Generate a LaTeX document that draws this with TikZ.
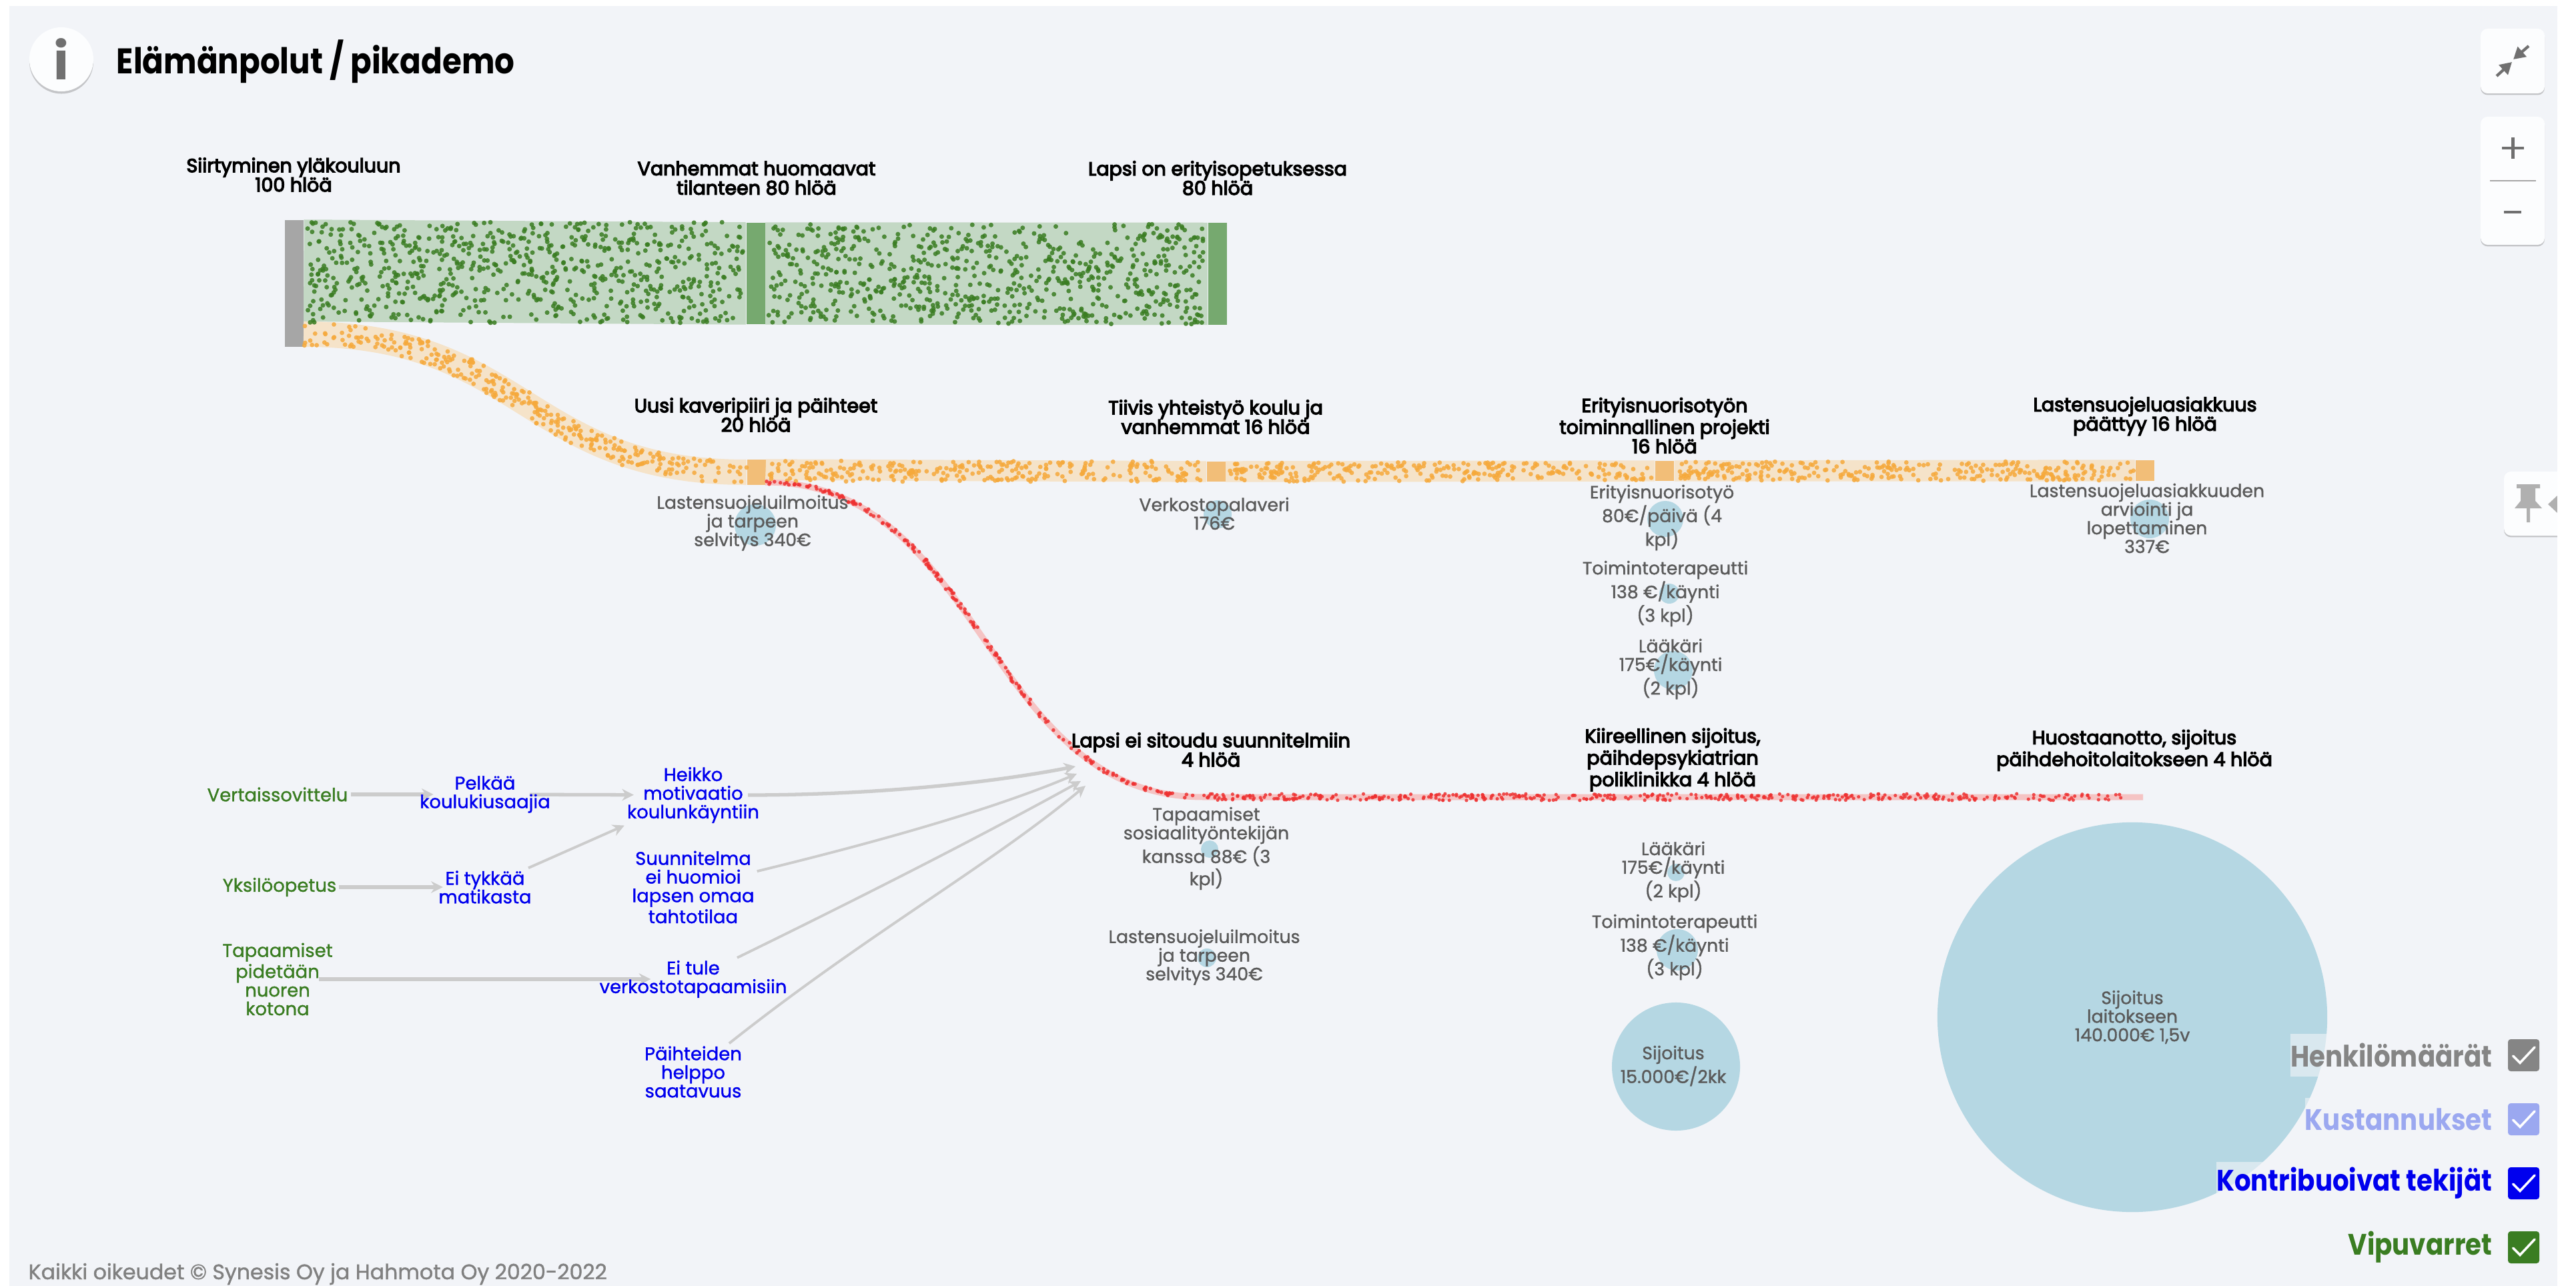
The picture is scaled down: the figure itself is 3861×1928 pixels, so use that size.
\documentclass[tikz,border=0pt]{standalone}
\usepackage{fontspec}
\setmainfont{Poppins}
\newfontfamily\headfont{Poppins}[FakeBold=4.5]
\newfontfamily\titlefont{Poppins}[FakeStretch=0.875]
\newfontfamily\bodyfont{Poppins}[FakeBold=1.2]
\usetikzlibrary{arrows.meta,shadows}
\pgfdeclarelayer{pagelayer}
\pgfdeclarelayer{flowlayer}
\pgfsetlayers{pagelayer,flowlayer,main}
\def\px{0.2845pt}
\definecolor{pagebg}{HTML}{F2F4F8}
\definecolor{greenband}{HTML}{C3D8C4}
\definecolor{greenbar}{HTML}{76A96F}
\definecolor{greendot}{HTML}{3A7D22}
\definecolor{orangeband}{HTML}{F5E3C9}
\definecolor{orangebar}{HTML}{F2BE78}
\definecolor{orangedot}{HTML}{F5A93B}
\definecolor{redband}{HTML}{F5C4C4}
\definecolor{reddot}{HTML}{EE3030}
\definecolor{costblue}{HTML}{B5D7E3}
\definecolor{flowgrey}{HTML}{CCCCCC}
\definecolor{costtext}{HTML}{5A5A5A}
\definecolor{blueish}{HTML}{0000EE}
\definecolor{iconcol}{HTML}{707070}
\definecolor{pincol}{HTML}{B0B0B0}
\definecolor{henkcol}{HTML}{858585}
\definecolor{kustcol}{HTML}{9BA8F0}
\tikzset{
  head/.style={align=center,inner sep=0pt,font=\headfont\fontsize{8.1}{8.25}\selectfont},
  cost/.style={align=center,inner sep=0pt,text=costtext,font=\bodyfont\fontsize{7.6}{7.95}\selectfont},
  factor/.style={align=center,inner sep=1pt,text=blueish,font=\bodyfont\fontsize{7.8}{7.95}\selectfont},
  lever/.style={factor,text=greendot},
  bar/.style={inner sep=0pt,minimum width=28*\px},
  costdot/.style={circle,inner sep=0pt,fill=costblue},
  flow/.style={draw=flowgrey,line width=1.1pt,-{Stealth[length=5pt,width=5pt]}},
  legend/.style={anchor=east,inner sep=0pt,fill=pagebg,fill opacity=.6,text opacity=1,minimum height=64*\px,font=\titlefont\bfseries\fontsize{12.6}{14}\selectfont},
  chk/.style={rounded corners=1.2pt,inner sep=0pt,minimum width=47*\px,minimum height=48*\px},
  chkmark/.style={draw=white,line width=1pt,line cap=round},
  btn/.style={fill=white!80!pagebg,rounded corners=3pt,drop shadow={opacity=.4,shadow xshift=0pt,shadow yshift=-.7pt}},
  ico/.style={draw=iconcol,line width=1.4pt}
}
% n, x0, y0, x1, y1, colour, radius
\newcommand{\boxdots}[7]{
  \foreach \i in {1,...,#1}{
    \pgfmathsetmacro{\dx}{#2+rnd*(#4-#2)}
    \pgfmathsetmacro{\dy}{#3+rnd*(#5-#3)}
    \fill[#6,opacity=.85] (\dx,\dy) circle[radius=#7];
  }
}
% n, x0, y0, x1, y1, half width, colour, radius
\newcommand{\curvedots}[8]{
  \foreach \i in {1,...,#1}{
    \pgfmathsetmacro{\t}{rnd}
    \pgfmathsetmacro{\s}{(2*rnd-1)*#6}
    \pgfmathsetmacro{\tx}{(#4-#2)*(1.5-3*\t+3*\t*\t)/100}
    \pgfmathsetmacro{\ty}{(#5-#3)*(6*\t-6*\t*\t)/100}
    \pgfmathsetmacro{\tl}{veclen(\tx,\ty)}
    \pgfmathsetmacro{\dx}{#2+(#4-#2)*(1.5*\t-1.5*\t*\t+\t*\t*\t)-\s*\ty/\tl}
    \pgfmathsetmacro{\dy}{#3+(#5-#3)*(3*\t*\t-2*\t*\t*\t)+\s*\tx/\tl}
    \fill[#7,opacity=.85] (\dx,\dy) circle[radius=#8];
  }
}
\begin{document}
\begin{tikzpicture}[x=0.01cm,y=-0.01cm]
\pgfmathsetseed{11}
\begin{pgfonlayer}{pagelayer}
\fill[white] (0,0) rectangle (3861,1928);
\fill[pagebg] (14,9) rectangle (3833,1928);
\end{pgfonlayer}
\useasboundingbox (0,0) rectangle (3861,1928);

\node[costdot,minimum size=62*\px] (c1) at (1132,787) {};
\node[costdot,minimum size=42*\px] (c2) at (1825,771) {};
\node[costdot,minimum size=54*\px] (c3) at (2496,778) {};
\node[costdot,minimum size=30*\px] (c4) at (2502,890) {};
\node[costdot,minimum size=58*\px] (c5) at (2508,1005) {};
\node[costdot,minimum size=58*\px] (c6) at (3222,778) {};
\node[costdot,minimum size=26*\px] (c7) at (1813,1273) {};
\node[costdot,minimum size=28*\px] (c8) at (1809,1436) {};
\node[costdot,minimum size=26*\px] (c9) at (2512,1308) {};
\node[costdot,minimum size=62*\px] (c10) at (2514,1424) {};
\node[costdot,minimum size=192*\px] (c11) at (2512,1599) {};
\node[costdot,minimum size=584*\px] (c12) at (3196,1525) {};

\node[bar,fill=black!35,minimum height=190*\px] (siirt) at (441,425) {};
\node[bar,fill=greenbar,minimum height=152*\px] (vanh) at (1132.5,410) {};
\node[bar,fill=greenbar,minimum height=152*\px] (erop) at (1824.5,410.5) {};
\node[bar,fill=orangebar,minimum height=38*\px] (kave) at (1133.5,708) {};
\node[bar,fill=orangebar,minimum height=30*\px] (tiiv) at (1822.5,707) {};
\node[bar,fill=orangebar,minimum height=30*\px] (prok) at (2495,706) {};
\node[bar,fill=orangebar,minimum height=31*\px] (paat) at (3214.5,705.5) {};

\coordinate (gb) at (455,482);
\coordinate (ob) at (455,501);
\coordinate (oc) at (1147,720);
\coordinate (rs) at (1147,723);
\coordinate (rm) at (1804,1195);
\coordinate (re) at (3212,1195);
\fill[greenband] (siirt.north east)--(vanh.north west)--(vanh.south west)--(gb)--cycle;
\fill[greenband] (vanh.north east)--(erop.north west)--(erop.south west)--(vanh.south east)--cycle;
\draw[orangeband,line width=38*\px] (ob) .. controls (787.5,501) and (787.5,708) .. (kave.west);
\fill[orangeband] (kave.north east)--(tiiv.north west)--(tiiv.south west)--(oc)--cycle;
\fill[orangeband] (tiiv.north east)--(prok.north west)--(prok.south west)--(tiiv.south east)--cycle;
\fill[orangeband] (prok.north east)--(paat.north west)--(paat.south west)--(prok.south east)--cycle;
\draw[redband,line width=9*\px] (rs) .. controls (1475,723) and (1475,1195) .. (rm)--(re);

\boxdots{730}{461}{333}{1115}{484}{greendot}{3.5}
\boxdots{730}{1152}{336}{1807}{486}{greendot}{3.5}
\curvedots{320}{455}{501}{1120}{708}{17}{orangedot}{3.4}
\boxdots{270}{1152}{691}{1806}{722}{orangedot}{3.4}
\boxdots{260}{1842}{693}{2478}{722}{orangedot}{3.4}
\boxdots{290}{2514}{692}{3198}{721}{orangedot}{3.4}
\curvedots{200}{1147}{723}{1804}{1195}{3}{reddot}{2.8}
\boxdots{430}{1804}{1190}{3180}{1200}{reddot}{2.6}

\node[head] (h1) at (440,262) {Siirtyminen yläkouluun\\100 hlöä};
\node[head] (h2) at (1134,267) {Vanhemmat huomaavat\\tilanteen 80 hlöä};
\node[head] (h3) at (1825,267) {Lapsi on erityisopetuksessa\\80 hlöä};
\node[head] (h4) at (1133,622) {Uusi kaveripiiri ja päihteet\\20 hlöä};
\node[head] (h5) at (1822,625) {Tiivis yhteistyö koulu ja\\vanhemmat 16 hlöä};
\node[head] (h6) at (2495,638) {Erityisnuorisotyön\\toiminnallinen projekti\\16 hlöä};
\node[head] (h7) at (3215,624) {Lastensuojeluasiakkuus\\päättyy 16 hlöä};
\node[head] (h8) at (1815,1124) {Lapsi ei sitoudu suunnitelmiin\\4 hlöä};
\node[head] (h9) at (2507,1139) {Kiireellinen sijoitus,\\päihdepsykiatrian\\poliklinikka 4 hlöä};
\node[head] (h10) at (3199,1125) {Huostaanotto, sijoitus\\päihdehoitolaitokseen 4 hlöä};

\node[cost] (k1) at (1128,784) {Lastensuojeluilmoitus\\ja tarpeen\\selvitys 340€};
\node[cost] (k2) at (1820,770) {Verkostopalaveri\\176€};
\node[cost] (k3) at (2491,776) {Erityisnuorisotyö\\80€/päivä (4\\kpl)};
\node[cost] (k4) at (2496,890) {Toimintoterapeutti\\138 €/käynti\\(3 kpl)};
\node[cost] (k5) at (2504,1003) {Lääkäri\\175€/käynti\\(2 kpl)};
\node[cost] (k6) at (3218,777) {Lastensuojeluasiakkuuden\\arviointi ja\\lopettaminen\\337€};
\node[cost] (k7) at (1808,1272) {Tapaamiset\\sosiaalityöntekijän\\kanssa 88€ (3\\kpl)};
\node[cost] (k8) at (1805,1435) {Lastensuojeluilmoitus\\ja tarpeen\\selvitys 340€};
\node[cost] (k9) at (2508,1307) {Lääkäri\\175€/käynti\\(2 kpl)};
\node[cost] (k10) at (2510,1420) {Toimintoterapeutti\\138 €/käynti\\(3 kpl)};
\node[cost] (k11) at (2508,1598) {Sijoitus\\15.000€/2kk};
\node[cost] (k12) at (3196,1525) {Sijoitus\\laitokseen\\140.000€ 1,5v};

\coordinate (ta) at (1612,1149);
\coordinate (tb) at (1614,1160);
\coordinate (tc) at (1620,1171);
\coordinate (td) at (1627,1178);
\node[lever] (vert) at (416,1191) {Vertaissovittelu};
\node[lever] (yksi) at (419,1330) {Yksilöopetus};
\node[lever] (koti) at (416,1468) {Tapaamiset\\pidetään\\nuoren\\kotona};
\node[factor] (pelk) at (727,1191) {Pelkää\\koulukiusaajia};
\node[factor] (tykk) at (727,1330) {Ei tykkää\\matikasta};
\node[factor] (heik) at (1039,1192) {Heikko\\motivaatio\\koulunkäyntiin};
\node[factor] (suun) at (1039,1330) {Suunnitelma\\ei huomioi\\lapsen omaa\\tahtotilaa};
\node[factor] (tule) at (1039,1468) {Ei tule\\verkostotapaamisiin};
\node[factor] (paih) at (1039,1607) {Päihteiden\\helppo\\saatavuus};

\begin{pgfonlayer}{flowlayer}
\draw[flow,line width=1.5pt,shorten >=-7pt] (vert)--(pelk);
\draw[flow,line width=1.5pt,shorten >=-3pt] (yksi)--(tykk);
\draw[flow,line width=1.5pt,shorten <=-7pt,shorten >=-23pt] (koti)--(tule);
\draw[flow,line width=1.5pt,shorten <=-10pt,shorten >=-4pt] (pelk)--(heik);
\draw[flow] (tykk)--(heik);
\draw[flow,line width=1.5pt,shorten <=-6pt] (heik) .. controls (1300,1192) and (1480,1175) .. (ta);
\draw[flow] (suun) .. controls (1200,1290) and (1450,1230) .. (tb);
\draw[flow] (tule) .. controls (1250,1365) and (1450,1265) .. (tc);
\draw[flow] (paih) .. controls (1300,1400) and (1480,1300) .. (td);
\end{pgfonlayer}

\node[circle,fill=white!80!pagebg,minimum size=96*\px,inner sep=0pt,drop shadow={opacity=.4,shadow xshift=0pt,shadow yshift=-1pt}] (info) at (92,89) {};
\node[text=iconcol,inner sep=0pt,font=\bfseries\fontsize{22}{22}\selectfont] (ikon) at (info) {i};
\node[anchor=west,inner sep=0pt,font=\titlefont\bfseries\fontsize{15.2}{18}\selectfont] (otsikko) at (174,92) {Elämänpolut / pikademo};
\node[anchor=west,inner sep=0pt,text=black!50,font=\bodyfont\fontsize{9}{11}\selectfont] (oikeudet) at (42,1910) {Kaikki oikeudet © Synesis Oy ja Hahmota Oy 2020-2022};

\fill[btn] (3718,43) rectangle (3814,140);
\draw[ico,line width=1.2pt,-{Stealth[length=5pt,width=5.5pt,inset=0pt]}] (3742,114)--(3765,93);
\draw[ico,line width=1.2pt,-{Stealth[length=5pt,width=5.5pt,inset=0pt]}] (3790,69)--(3767,89);
\fill[btn] (3718,175) rectangle (3814,367);
\draw[black!35,line width=.4pt] (3732,271)--(3801,271);
\draw[ico] (3750,222)--(3783,222);
\draw[ico] (3766,206)--(3766,238);
\draw[ico] (3753,318)--(3779,318);
\fill[btn] (3753,707) rectangle (3880,803);
\fill[pincol] (3772,726)--(3807,726)--(3807,732)--(3800,732)--(3800,751)--(3810,762)--(3792,762)--(3792,783)--(3787,783)--(3787,762)--(3769,762)--(3778,751)--(3778,732)--(3772,732)--cycle;
\fill[pincol] (3819,756)--(3833,743)--(3833,769)--cycle;
\fill[white] (3833,0) rectangle (3861,1928);

\node[legend,text=henkcol] (henk) at (3736,1582) {Henkilömäärät};
\node[legend,text=kustcol] (kust) at (3736,1678) {Kustannukset};
\node[legend,text=blueish] (kont) at (3736,1774) {Kontribuoivat tekijät};
\node[legend,text=greendot] (vipu) at (3736,1870) {Vipuvarret};
\node[chk,fill=henkcol] (henkb) at (3782.5,1582) {};
\node[chk,fill=kustcol] (kustb) at (3782.5,1678) {};
\node[chk,fill=blueish] (kontb) at (3782.5,1774) {};
\node[chk,fill=greendot] (vipub) at (3782.5,1870) {};
\foreach \b in {henkb,kustb,kontb,vipub}{
  \draw[chkmark] ([shift={(-16,1)}]\b.center)--([shift={(-5.5,11.5)}]\b.center)--([shift={(16.5,-12)}]\b.center);
}
\end{tikzpicture}
\end{document}
